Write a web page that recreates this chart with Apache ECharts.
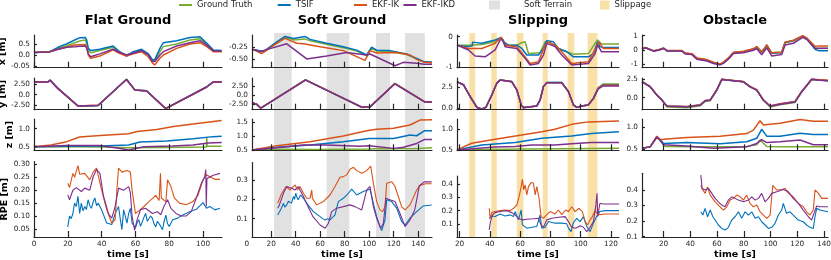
<!DOCTYPE html>
<html><head><meta charset="utf-8">
<script src="https://cdn.jsdelivr.net/npm/echarts@6/dist/echarts.min.js"></script>
<style>html,body{margin:0;padding:0;background:#fff}#c{width:831px;height:260px}</style>
</head><body><div id="c"></div>
<script>
// ================= DATA =================
const scenarioTitles = ['Flat Ground', 'Soft Ground', 'Slipping', 'Obstacle'];
const rowNames = ['x [m]', 'y [m]', 'z [m]', 'RPE [m]'];
const xAxisName = 'time [s]';
const xTicks_flat = [0, 20, 40, 60, 80, 100];
const xTicks_soft = [0, 20, 40, 60, 80, 100, 120, 140];
const xTicks_slip = [20, 40, 60, 80, 100, 120];
const xTicks_obst = [20, 40, 60, 80, 100, 120, 140];
const softTerrainSpans = [[22.3, 36.7], [65.3, 83.8], [105.6, 117], [129.3, 145.5]];
const slippageSpans = [[26.4, 30.3], [40.9, 44.6], [57.8, 62.2], [74.9, 78.2], [91.4, 95.8], [104.6, 111]];

// y tick values / labels
const flatXTicks = [-0.5, 0, 0.5], flatXText = ['-0.05', '0.0', '0.5'];
const flatYTicks = [-2.5, 0, 2.5], flatYText = ['-2.50', '0.0', '2.50'];
const flatZTicks = [0.5, 1.0], flatZText = ['0.5', '1.0'];
const flatRTicks = [0.05, 0.10, 0.15, 0.20, 0.25, 0.30], flatRText = ['0.05', '0.10', '0.15', '0.20', '0.25', '0.30'];
const softXTicks = [-0.5, -0.25], softXText = ['-0.50', '-0.25'];
const softYTicks = [-2.5, 0, 2.5], softYText = ['-2.50', '0.0', '2.50'];
const softZTicks = [0.5, 1.0, 1.5], softZText = ['0.5', '1.0', '1.5'];
const softRTicks = [0.1, 0.2, 0.3], softRText = ['0.1', '0.2', '0.3'];
const slipXTicks = [-1, 0], slipXText = ['-1', '0'];
const slipYTicks = [0, 2.5], slipYText = ['0.0', '2.5'];
const slipZTicks = [0.5, 1.0], slipZText = ['0.5', '1.0'];
const slipRTicks = [0.1, 0.2, 0.3, 0.4], slipRText = ['0.1', '0.2', '0.3', '0.4'];
const obstXTicks = [-1, 0, 1], obstXText = ['-1', '0', '1'];
const obstYTicks = [0, 2.5], obstYText = ['0.0', '2.5'];
const obstZTicks = [0.5, 1.0], obstZText = ['0.5', '1.0'];
const obstRTicks = [0.1, 0.2, 0.3, 0.4], obstRText = ['0.1', '0.2', '0.3', '0.4'];

// ---- Flat Ground ----
const flatX_t = [0, 9.3, 14.2, 19.2, 24.1, 27.1, 30.3, 31.2, 32.1, 33.5, 38.9, 46.8, 49.8, 54.7, 58.7, 63.6, 67.6, 70.2, 71.5, 74.5, 76.5, 84.4, 92.3, 98.2, 102.2, 106.1, 111];
const flatX_gt = [0.11, 0.15, 0.3, 0.41, 0.56, 0.64, 0.68, 0.53, 0.2, 0.1, 0.2, 0.35, 0.15, 0.0, 0.1, 0.23, 0.05, -0.3, -0.26, 0.15, 0.38, 0.5, 0.68, 0.74, 0.5, 0.2, 0.18];
const flatX_tsif = [0.11, 0.15, 0.35, 0.5, 0.68, 0.79, 0.8, 0.68, 0.3, 0.2, 0.26, 0.41, 0.2, -0.05, 0.15, 0.26, 0.05, -0.23, -0.2, 0.3, 0.56, 0.65, 0.8, 0.83, 0.53, 0.23, 0.2];
const flatX_ik = [0.11, 0.15, 0.26, 0.35, 0.45, 0.47, 0.48, 0.38, 0.0, -0.15, -0.05, 0.23, 0.1, -0.05, 0.05, 0.15, -0.08, -0.38, -0.45, -0.15, 0.0, 0.3, 0.5, 0.56, 0.38, 0.15, 0.15];
const flatX_ikd = [0.11, 0.14, 0.26, 0.35, 0.38, 0.4, 0.41, 0.3, 0.05, -0.08, 0.05, 0.26, 0.15, 0.0, 0.08, 0.2, 0.0, -0.3, -0.3, 0.0, 0.15, 0.41, 0.56, 0.65, 0.45, 0.18, 0.18];

const flatY_t = [0, 8.3, 9.5, 14.2, 26.1, 37.9, 54.7, 59.7, 66.6, 77.9, 102.2, 106.1, 111];
const flatY_gt = [3.1, 3.1, 3.5, 1.5, -2.8, -2.65, 3.7, 1.15, 0.95, -3.4, 1.9, 3.1, 3.1];
const flatY_tsif = [3.1, 3.1, 3.5, 1.5, -2.75, -2.6, 3.7, 1.15, 0.95, -3.35, 1.9, 3.1, 3.1];
const flatY_ik = [3.05, 3.05, 3.45, 1.45, -2.7, -2.55, 3.65, 1.1, 0.9, -3.35, 1.85, 3.05, 3.05];
const flatY_ikd = [3.05, 3.05, 3.45, 1.45, -2.7, -2.55, 3.65, 1.1, 0.9, -3.3, 1.85, 3.05, 3.05];

const flatZ_gt = [[0, 0.5], [20, 0.5], [40, 0.49], [56, 0.47], [78, 0.48], [102, 0.49], [102.2, 0.77], [102.4, 0.51], [111, 0.51]];
const flatZ_tsif = [[0, 0.5], [20, 0.51], [39, 0.52], [56, 0.55], [62.7, 0.63], [78.5, 0.66], [94, 0.72], [106, 0.78], [111, 0.79]];
const flatZ_ik = [[0, 0.5], [10, 0.55], [19.3, 0.64], [27, 0.77], [39, 0.81], [56, 0.86], [61, 0.92], [72.6, 0.98], [82.5, 1.06], [94, 1.13], [111, 1.23]];
const flatZ_ikd = [[0, 0.5], [19, 0.53], [39, 0.53], [50, 0.46], [56, 0.41], [65, 0.5], [82, 0.52], [94, 0.55], [103, 0.6], [111, 0.62]];

const flatR_tsif = [[20,0.058],[21,0.1],[22,0.09],[23,0.11],[24,0.15],[25,0.137],[26,0.176],[27,0.11],[28,0.15],[29,0.12],[30,0.137],[31,0.125],[32,0.163],[33,0.14],[34,0.13],[35,0.155],[36,0.17],[37,0.14],[38,0.15],[40,0.124],[43,0.073],[46,0.067],[48,0.11],[50,0.137],[51,0.09],[52,0.047],[53,0.124],[54,0.1],[55,0.073],[56,0.11],[57,0.13],[58,0.073],[60,0.054],[61,0.075],[62,0.086],[63,0.06],[64,0.067],[65,0.095],[66,0.11],[67,0.08],[68,0.073],[69,0.1],[70,0.092],[71,0.07],[72,0.058],[73,0.08],[74,0.086],[75,0.06],[76,0.047],[77,0.08],[78,0.104],[79,0.07],[80,0.06],[82,0.086],[85,0.092],[88,0.104],[92,0.117],[96,0.126],[100,0.152],[102,0.13],[104,0.137],[107,0.124],[110,0.13]];
const flatR_ik = [[20,0.227],[21,0.21],[23,0.265],[24,0.25],[26,0.295],[27,0.262],[30,0.265],[33,0.24],[35,0.27],[37,0.285],[38,0.28],[40,0.2],[43,0.125],[46,0.073],[48,0.086],[49,0.2],[50,0.285],[52,0.27],[55,0.276],[57,0.27],[58,0.2],[60,0.11],[62,0.12],[65,0.137],[68,0.156],[72,0.18],[74,0.16],[74.8,0.265],[75.3,0.17],[78,0.156],[79,0.24],[81,0.214],[83,0.17],[86,0.15],[90,0.144],[94,0.156],[97,0.18],[100,0.24],[102,0.26],[104,0.252],[107,0.242],[110,0.242]];
const flatR_ikd = [[20,0.182],[21,0.163],[23,0.2],[25,0.21],[28,0.195],[30,0.208],[33,0.2],[35,0.252],[37,0.28],[39,0.265],[41,0.18],[44,0.11],[46,0.092],[48,0.137],[50,0.208],[53,0.2],[56,0.214],[57,0.19],[58,0.1],[59.5,0.045],[61,0.086],[63,0.125],[66,0.13],[70,0.11],[73,0.117],[75,0.105],[77,0.14],[79,0.163],[81,0.13],[84,0.11],[87,0.1],[90,0.1],[93,0.117],[96,0.17],[99,0.227],[101,0.252],[101.6,0.28],[101.9,0.137],[102.3,0.245],[106,0.258],[110,0.265]];

// ---- Soft Ground ----
const softX_gt = [[4.3,-0.29],[13.6,-0.35],[24.5,-0.15],[31.3,-0.05],[38.1,-0.1],[47.6,-0.08],[51.7,-0.12],[65.3,-0.19],[78.9,-0.26],[89.8,-0.33],[98,-0.42],[102,-0.27],[106.1,-0.33],[117,-0.34],[130.6,-0.4],[138.8,-0.49],[145,-0.55],[151.3,-0.56]];
const softX_tsif = [[4.3,-0.29],[13.6,-0.34],[24.5,-0.14],[31.3,-0.03],[38.1,-0.07],[47.6,-0.03],[51.7,-0.09],[65.3,-0.17],[78.9,-0.24],[89.8,-0.31],[98,-0.41],[102,-0.25],[106.1,-0.31],[117,-0.32],[130.6,-0.39],[138.8,-0.48],[145,-0.55],[151.3,-0.56]];
const softX_ik = [[4.3,-0.29],[12.2,-0.38],[24.5,-0.17],[31.3,-0.07],[40.8,-0.17],[46.3,-0.18],[59.9,-0.24],[78.9,-0.32],[96.6,-0.52],[100.7,-0.32],[106.1,-0.37],[122.4,-0.36],[133.3,-0.41],[138.8,-0.5],[145,-0.56],[151.3,-0.57]];
const softX_ikd = [[4.3,-0.29],[10.9,-0.34],[16.3,-0.3],[32.7,-0.18],[49,-0.49],[65.3,-0.43],[81.6,-0.36],[98,-0.41],[100.7,-0.39],[121.1,-0.63],[127.9,-0.56],[138.8,-0.58],[145,-0.6],[151.3,-0.6]];

const softY_t = [4.3, 8, 11.5, 48, 94, 100.7, 121, 138.8, 145.5, 151.3];
const softY_gt = [-2.0, -2.4, -3.5, 4.15, -3.3, -3.2, 3.15, -0.45, -1.85, -1.85];
const softY_tsif = [-2.0, -2.4, -3.5, 4.1, -3.25, -3.15, 3.1, -0.45, -1.8, -1.8];
const softY_ik = [-2.0, -2.4, -3.5, 4.1, -3.2, -3.1, 3.1, -0.45, -1.8, -1.8];
const softY_ikd = [-2.0, -2.4, -3.5, 4.05, -3.2, -3.1, 3.05, -0.5, -1.85, -1.85];

const softZ_gt = [[4.3,0.5],[24.5,0.53],[60,0.52],[100,0.54],[108,0.56],[120,0.55],[140,0.56],[151.3,0.58]];
const softZ_tsif = [[4.3,0.5],[24.5,0.6],[51.7,0.68],[78.9,0.8],[100,0.92],[120,0.92],[133.3,1.05],[138.8,1.02],[145,1.2],[151.3,1.2]];
const softZ_ik = [[4.3,0.5],[24.5,0.66],[51.7,0.8],[78.9,1.01],[98,1.2],[106.1,1.26],[120,1.29],[133.3,1.41],[141.5,1.59],[151.3,1.6]];
const softZ_ikd = [[4.3,0.5],[24.5,0.58],[46,0.68],[65,0.68],[92.5,0.64],[100,0.66],[120,0.56],[128,0.6],[138.8,0.74],[145,0.88],[151.3,0.88]];

const softR_tsif = [[25.3,0.119],[26.7,0.128],[28,0.15],[30,0.179],[31,0.16],[32.7,0.171],[34,0.19],[35.4,0.197],[36.5,0.18],[38.1,0.214],[39,0.2],[40,0.231],[41,0.21],[42,0.197],[44,0.222],[46.3,0.205],[50,0.171],[54.4,0.136],[59.9,0.11],[62,0.1],[64,0.093],[66,0.1],[68,0.093],[72.1,0.119],[74.8,0.188],[78.9,0.205],[83,0.231],[85.7,0.252],[89.8,0.222],[95.2,0.24],[100.7,0.252],[103.4,0.179],[106.1,0.11],[108.8,0.059],[110.2,0.038],[112.9,0.093],[114.3,0.197],[118.4,0.188],[122.4,0.154],[126.5,0.085],[129.3,0.067],[133.3,0.102],[138.8,0.136],[144,0.165],[151,0.17]];
const softR_ik = [[25.3,0.179],[26.7,0.171],[28.6,0.231],[32.1,0.266],[35.4,0.248],[39.5,0.274],[41.4,0.248],[43.5,0.266],[46.3,0.231],[49,0.205],[51.7,0.205],[53.1,0.248],[53.6,0.205],[57.1,0.171],[62.6,0.188],[68,0.222],[72.1,0.266],[76.2,0.314],[78.9,0.317],[81.6,0.326],[84.4,0.355],[87.1,0.365],[89.8,0.348],[93.9,0.334],[98,0.348],[101.2,0.372],[103.4,0.283],[106.1,0.188],[108.8,0.145],[111,0.136],[112.9,0.162],[114.3,0.283],[118.4,0.291],[121.1,0.266],[126.5,0.162],[129.3,0.145],[133.3,0.171],[138.8,0.248],[141,0.27],[146,0.28],[151,0.28]];
const softR_ikd = [[25.3,0.154],[26.7,0.171],[30,0.231],[32.7,0.266],[36.7,0.257],[39.5,0.248],[42,0.266],[46.3,0.214],[50,0.162],[54.1,0.11],[59.9,0.067],[64,0.05],[66.7,0.076],[69.4,0.136],[73.5,0.154],[78.9,0.162],[84.4,0.171],[88.4,0.162],[93.9,0.145],[98,0.248],[100.7,0.266],[103.4,0.162],[106.1,0.102],[109.4,0.05],[111.6,0.076],[113.7,0.205],[117,0.197],[121.1,0.188],[125.1,0.128],[129.3,0.059],[133.3,0.093],[137.2,0.145],[141,0.27],[145,0.29],[151,0.29]];

// ---- Slipping ----
const slipX_gt = [[18.3,-0.28],[25.9,-0.28],[34.7,-0.26],[43.5,-0.17],[47.5,-0.02],[51,-0.28],[57.8,-0.28],[61,-0.2],[63.3,-0.17],[65.5,-0.56],[73.2,-0.53],[76.5,-0.17],[78.7,-0.17],[85.3,-0.39],[90.8,-0.5],[95.2,-0.58],[105.1,-0.56],[109.5,-0.22],[111.2,-0.11],[113.8,-0.24],[125.3,-0.24]];
const slipX_tsif = [[18.3,-0.28],[25.9,-0.33],[28.4,-0.3],[28.6,-0.18],[29.2,-0.24],[34.7,-0.22],[43.5,-0.11],[47.5,-0.02],[49,-0.17],[52.3,-0.28],[57.8,-0.28],[61.1,-0.39],[64.4,-0.61],[72.1,-0.61],[75.4,-0.39],[77.6,-0.13],[82,-0.17],[85.3,-0.39],[90.8,-0.5],[95.2,-0.67],[105.1,-0.67],[108.4,-0.56],[111.2,-0.17],[112.7,-0.33],[114.9,-0.36],[125.3,-0.36]];
const slipX_ik = [[18.3,-0.28],[25.9,-0.39],[34.7,-0.39],[43.5,-0.22],[47.5,-0.02],[50.1,-0.28],[57.8,-0.33],[63.3,-0.67],[66.6,-0.89],[72.1,-0.83],[76.5,-0.28],[78.7,-0.17],[83.1,-0.28],[87.5,-0.5],[94.1,-0.89],[105.1,-0.83],[110.5,-0.33],[112.1,-0.17],[114.9,-0.39],[125.3,-0.39]];
const slipX_ikd = [[18.3,-0.28],[25.9,-0.44],[30.3,-0.64],[36.9,-0.67],[43.5,-0.44],[46.8,-0.11],[48.4,-0.09],[50.1,-0.33],[57.8,-0.39],[63.3,-0.72],[66.6,-0.94],[72.1,-0.89],[75.4,-0.61],[77.6,-0.22],[83.1,-0.33],[87.5,-0.61],[94.1,-0.94],[105.1,-0.89],[109.5,-0.56],[111.2,-0.28],[113.8,-0.5],[125.3,-0.5]];

const slipY_t = [18.3, 22.6, 27, 31.4, 34.7, 37.4, 41.3, 44.6, 46.8, 54.5, 57.8, 60.7, 62.2, 71, 73.2, 75.4, 77.6, 87.5, 91.9, 95.2, 97.4, 100.7, 105, 108.4, 111.6, 114.9, 125.3];
const slipY_gt = [3.17, 2.8, 1.4, 0.12, -0.08, 0.12, 1.6, 3.0, 3.37, 3.17, 2.2, 0.4, 0.08, 0.28, 1.0, 2.6, 3.05, 3.05, 2.0, 0.4, 0.12, 0.28, 0.4, 1.2, 2.45, 2.9, 2.9];
const slipY_tsif = [3.17, 2.8, 1.4, 0.12, -0.08, 0.12, 1.6, 3.0, 3.37, 3.17, 2.2, 0.4, 0.08, 0.28, 1.0, 2.6, 3.05, 3.05, 2.0, 0.4, 0.12, 0.28, 0.4, 1.2, 2.4, 2.78, 2.78];
const slipY_ik = [3.15, 2.78, 1.38, 0.1, -0.1, 0.1, 1.58, 2.98, 3.35, 3.15, 2.18, 0.38, 0.06, 0.26, 0.98, 2.58, 3.03, 3.03, 1.98, 0.38, 0.1, 0.26, 0.38, 1.18, 2.38, 2.74, 2.74];
const slipY_ikd = [3.15, 2.78, 1.38, 0.1, -0.1, 0.1, 1.58, 2.98, 3.35, 3.15, 2.18, 0.38, 0.06, 0.26, 0.98, 2.58, 3.03, 3.03, 1.98, 0.38, 0.1, 0.26, 0.38, 1.15, 2.32, 2.66, 2.66];

const slipZ_gt = [[18.3,0.5],[60,0.52],[90,0.53],[125.3,0.54]];
const slipZ_tsif = [[18.3,0.5],[34.7,0.62],[56.7,0.68],[74.3,0.78],[94,0.84],[107,0.9],[125.3,0.94]];
const slipZ_ik = [[18.3,0.5],[28,0.66],[43.5,0.76],[61,0.86],[74.3,0.94],[83,1.0],[94,1.12],[105,1.18],[125.3,1.2]];
const slipZ_ikd = [[18.3,0.5],[43.5,0.57],[56.7,0.58],[67.7,0.62],[83,0.62],[94,0.65],[107,0.68],[125.3,0.68]];

const slipR_tsif = [[39.6,0.142],[41.3,0.16],[43.5,0.155],[46.8,0.175],[50.1,0.16],[53.4,0.168],[55.6,0.155],[56.7,0.193],[58.9,0.13],[60.7,0.205],[61.5,0.092],[64.4,0.067],[67.7,0.074],[71,0.08],[73.2,0.168],[74.3,0.067],[76.5,0.074],[78.7,0.117],[83.1,0.105],[87.5,0.105],[90.8,0.1],[91.9,0.067],[93.6,0.041],[95.2,0.11],[97.4,0.142],[99.6,0.117],[101.8,0.155],[104,0.08],[106.2,0.041],[108.4,0.105],[110.5,0.155],[112.7,0.193],[116,0.2],[125.3,0.2]];
const slipR_ik = [[39.6,0.218],[40.2,0.14],[41.3,0.185],[43.5,0.193],[46.8,0.2],[50.1,0.205],[53.4,0.2],[55.6,0.218],[57.8,0.243],[59.3,0.306],[60.7,0.382],[61.5,0.438],[62.4,0.357],[63.3,0.395],[64.4,0.32],[65.5,0.382],[67.3,0.413],[68.8,0.408],[69.9,0.32],[71,0.382],[72.5,0.294],[73.8,0.155],[75.4,0.142],[77.6,0.17],[79.8,0.193],[83.1,0.175],[85.3,0.205],[87.5,0.17],[90.1,0.205],[91.9,0.193],[94.1,0.23],[96.3,0.193],[98.9,0.218],[101.1,0.193],[102.9,0.117],[104.6,0.092],[106.2,0.13],[107.7,0.155],[109.5,0.2],[111.6,0.168],[116,0.175],[120.4,0.175],[125.3,0.175]];
const slipR_ikd = [[39.6,0.054],[40.4,0.117],[41.8,0.168],[43.5,0.185],[46.8,0.193],[51.2,0.2],[54.5,0.185],[56.7,0.168],[58.9,0.142],[61.1,0.13],[64.4,0.135],[68.8,0.138],[72.1,0.142],[73.8,0.092],[75.4,0.074],[77.6,0.13],[80.9,0.142],[85.3,0.15],[89.7,0.155],[91.9,0.117],[94.1,0.074],[96.7,0.067],[99.6,0.085],[101.8,0.074],[104,0.041],[106.2,0.074],[108.4,0.117],[109.9,0.23],[110.8,0.332],[111.2,0.155],[112.7,0.256],[114.9,0.25],[125.3,0.25]];

// ---- Obstacle ----
const obstX_t = [3.9, 6.3, 8.8, 12.5, 16.3, 20, 22.5, 33.7, 36.2, 41.2, 44.9, 52.4, 57.3, 62.3, 64.8, 68.5, 72.3, 79.7, 87.2, 89.7, 93.4, 97.2, 100.9, 108.4, 110.9, 117.1, 124.1, 127, 133.3, 135.8, 143];
const obstX_gt = [0.07, 0.16, 0.07, -0.07, 0.0, 0.12, -0.05, -0.05, -0.24, -0.28, -0.59, -0.71, -0.89, -1.01, -0.89, -0.59, -0.19, -0.12, 0.05, 0.19, -0.1, 0.25, -0.2, -0.15, 0.5, 0.62, 0.95, 0.8, 0.12, 0.1, 0.12];
const obstX_tsif = [0.07, 0.16, 0.07, -0.07, 0.0, 0.12, -0.05, -0.05, -0.24, -0.28, -0.6, -0.72, -0.9, -1.02, -0.9, -0.6, -0.2, -0.12, 0.06, 0.22, -0.19, 0.35, -0.24, -0.19, 0.52, 0.66, 0.99, 0.8, 0.05, -0.05, -0.05];
const obstX_ik = [0.08, 0.17, 0.08, -0.06, 0.01, 0.13, -0.04, -0.04, -0.22, -0.26, -0.56, -0.68, -0.86, -0.98, -0.86, -0.56, -0.16, -0.1, 0.08, 0.24, -0.16, 0.36, -0.2, -0.16, 0.55, 0.68, 1.0, 0.85, 0.25, 0.28, 0.28];
const obstX_ikd = [0.06, 0.15, 0.06, -0.08, -0.02, 0.1, -0.07, -0.08, -0.28, -0.33, -0.65, -0.78, -0.95, -1.05, -0.95, -0.65, -0.25, -0.2, -0.02, 0.1, -0.35, 0.15, -0.42, -0.32, 0.35, 0.47, 0.89, 0.75, 0.12, 0.12, 0.12];

const obstY_t = [3.9, 10, 15, 18.8, 22.5, 37.4, 47.4, 51.1, 54.9, 59.8, 63.6, 67.3, 79.7, 84.7, 89.7, 94.7, 99.7, 107.1, 118.3, 123.3, 130.8, 137, 143];
const obstY_gt = [2.18, 1.5, 0.36, -0.32, -1.25, -1.35, -1.1, -0.5, -0.4, 1.0, 2.5, 2.41, 2.18, 1.5, 1.05, -0.32, -1.25, -0.95, -0.65, 0.8, 2.5, 2.41, 2.32];
const obstY_tsif = [2.18, 1.5, 0.36, -0.32, -1.14, -1.23, -1.0, -0.41, -0.32, 1.05, 2.5, 2.41, 2.18, 1.5, 1.05, -0.32, -1.14, -0.86, -0.55, 0.82, 2.5, 2.41, 2.32];
const obstY_ik = [2.2, 1.52, 0.38, -0.3, -1.12, -1.2, -0.97, -0.38, -0.3, 1.08, 2.52, 2.44, 2.2, 1.52, 1.08, -0.3, -1.12, -0.83, -0.52, 0.85, 2.52, 2.44, 2.36];
const obstY_ikd = [2.17, 1.49, 0.35, -0.33, -1.15, -1.24, -1.01, -0.42, -0.33, 1.04, 2.48, 2.4, 2.16, 1.48, 1.03, -0.34, -1.16, -0.88, -0.57, 0.8, 2.48, 2.38, 2.3];

const obstZ_gt = [[3.9,0.52],[10,0.55],[15,0.77],[17.5,0.7],[21.2,0.56],[40,0.55],[80,0.55],[89.7,0.6],[92.2,0.71],[97.2,0.56],[110,0.55],[143,0.55]];
const obstZ_tsif = [[3.9,0.52],[10,0.55],[15,0.79],[17.5,0.72],[20,0.63],[37.4,0.65],[62.3,0.62],[82.2,0.67],[89.7,0.75],[93.4,0.96],[97.2,0.8],[107.1,0.8],[122.1,0.87],[132,0.84],[143,0.84]];
const obstZ_ik = [[3.9,0.52],[10,0.55],[15,0.8],[17.5,0.72],[20,0.725],[37.4,0.77],[62.3,0.8],[82.2,0.86],[87.2,0.94],[92.2,1.16],[94.7,1.06],[107.1,1.1],[122.1,1.19],[132,1.15],[143,1.15]];
const obstZ_ikd = [[3.9,0.52],[10,0.55],[15,0.78],[17.5,0.7],[20,0.6],[37.4,0.57],[57.3,0.52],[82.2,0.55],[89.7,0.63],[93.4,0.72],[97.2,0.65],[107.1,0.67],[122.1,0.71],[132,0.6],[143,0.6]];

const obstR_tsif = [[47.9,0.26],[49.4,0.239],[51.1,0.282],[52.9,0.228],[54.9,0.271],[56.9,0.228],[58.6,0.207],[61,0.175],[63.6,0.153],[66,0.143],[68.5,0.16],[71,0.207],[73.5,0.228],[76,0.26],[78.5,0.218],[81,0.26],[83.5,0.239],[86,0.26],[88.5,0.218],[91,0.228],[93.4,0.196],[95.9,0.175],[98.4,0.153],[100.9,0.16],[103.4,0.186],[105.9,0.239],[108.4,0.271],[109.6,0.314],[112,0.25],[114.6,0.26],[117,0.239],[120.8,0.207],[124.5,0.196],[127,0.175],[129.5,0.16],[132,0.153],[133.3,0.228],[134.5,0.282],[137,0.271],[143,0.26]];
const obstR_ik = [[47.9,0.43],[48.7,0.41],[51.1,0.378],[52.9,0.42],[54.9,0.367],[58.6,0.324],[62.3,0.292],[64.8,0.27],[67.3,0.292],[69.8,0.335],[72.3,0.346],[74.8,0.367],[77.3,0.356],[79.7,0.335],[82.2,0.367],[84.7,0.314],[87.2,0.292],[89.7,0.303],[92.2,0.26],[94.7,0.239],[97.2,0.218],[99.7,0.239],[101.7,0.43],[104.6,0.4],[108.4,0.403],[110.9,0.41],[113.4,0.378],[117,0.356],[120.8,0.314],[124.5,0.292],[127,0.26],[129.5,0.239],[132,0.271],[133.3,0.4],[135.8,0.378],[138.3,0.346],[143,0.346]];
const obstR_ikd = [[47.9,0.495],[48.9,0.41],[51.1,0.4],[53.6,0.41],[56.1,0.378],[58.6,0.346],[61,0.324],[63.6,0.303],[66,0.292],[68.5,0.335],[71,0.356],[73.5,0.346],[76,0.335],[79.7,0.324],[83.5,0.335],[86,0.356],[88.5,0.335],[91,0.346],[93.4,0.378],[95.9,0.324],[98.4,0.346],[100.9,0.378],[104.6,0.388],[109.6,0.403],[113.4,0.388],[117,0.346],[120.8,0.314],[124.5,0.271],[128.3,0.228],[130.8,0.207],[132.5,0.25],[134.5,0.297],[137,0.292],[143,0.292]];

// ================= BUILD =================
function zip(t, v) { return t.map((x, i) => [x, v[i]]); }
const GT = 'Ground Truth', TS = 'TSIF', IK = 'EKF-IK', IKD = 'EKF-IKD';
const COLORS = { 'Ground Truth': '#77AC30', 'TSIF': '#0072BD', 'EKF-IK': '#D95319', 'EKF-IKD': '#7E2F8E' };
const AX = '#262626';
const FONT = 'DejaVu Sans';

const panels = [
  [
    { ylim: [-0.58, 0.91], ticks: flatXTicks, text: flatXText, lines: [[GT, zip(flatX_t, flatX_gt)], [TS, zip(flatX_t, flatX_tsif)], [IK, zip(flatX_t, flatX_ik)], [IKD, zip(flatX_t, flatX_ikd)]] },
    { ylim: [-3.6, 4.0], ticks: flatYTicks, text: flatYText, lines: [[GT, zip(flatY_t, flatY_gt)], [TS, zip(flatY_t, flatY_tsif)], [IK, zip(flatY_t, flatY_ik)], [IKD, zip(flatY_t, flatY_ikd)]] },
    { ylim: [0.40, 1.27], ticks: flatZTicks, text: flatZText, lines: [[GT, flatZ_gt], [TS, flatZ_tsif], [IK, flatZ_ik], [IKD, flatZ_ikd]] },
    { ylim: [0.019, 0.311], ticks: flatRTicks, text: flatRText, lines: [[TS, flatR_tsif], [IK, flatR_ik], [IKD, flatR_ikd]] }
  ],
  [
    { ylim: [-0.67, 0.0], ticks: softXTicks, text: softXText, lines: [[GT, softX_gt], [TS, softX_tsif], [IK, softX_ik], [IKD, softX_ikd]] },
    { ylim: [-3.9, 4.6], ticks: softYTicks, text: softYText, lines: [[GT, zip(softY_t, softY_gt)], [TS, zip(softY_t, softY_tsif)], [IK, zip(softY_t, softY_ik)], [IKD, zip(softY_t, softY_ikd)]] },
    { ylim: [0.49, 1.63], ticks: softZTicks, text: softZText, lines: [[GT, softZ_gt], [TS, softZ_tsif], [IK, softZ_ik], [IKD, softZ_ikd]] },
    { ylim: [0.005, 0.39], ticks: softRTicks, text: softRText, lines: [[TS, softR_tsif], [IK, softR_ik], [IKD, softR_ikd]] }
  ],
  [
    { ylim: [-1.03, 0.057], ticks: slipXTicks, text: slipXText, lines: [[GT, slipX_gt], [TS, slipX_tsif], [IK, slipX_ik], [IKD, slipX_ikd]] },
    { ylim: [-0.17, 3.6], ticks: slipYTicks, text: slipYText, lines: [[GT, zip(slipY_t, slipY_gt)], [TS, zip(slipY_t, slipY_tsif)], [IK, zip(slipY_t, slipY_ik)], [IKD, zip(slipY_t, slipY_ikd)]] },
    { ylim: [0.49, 1.25], ticks: slipZTicks, text: slipZText, lines: [[GT, slipZ_gt], [TS, slipZ_tsif], [IK, slipZ_ik], [IKD, slipZ_ikd]] },
    { ylim: [0.0, 0.463], ticks: slipRTicks, text: slipRText, lines: [[TS, slipR_tsif], [IK, slipR_ik], [IKD, slipR_ikd]] }
  ],
  [
    { ylim: [-1.25, 1.05], ticks: obstXTicks, text: obstXText, lines: [[GT, zip(obstX_t, obstX_gt)], [TS, zip(obstX_t, obstX_tsif)], [IK, zip(obstX_t, obstX_ik)], [IKD, zip(obstX_t, obstX_ikd)]] },
    { ylim: [-1.63, 2.68], ticks: obstYTicks, text: obstYText, lines: [[GT, zip(obstY_t, obstY_gt)], [TS, zip(obstY_t, obstY_tsif)], [IK, zip(obstY_t, obstY_ik)], [IKD, zip(obstY_t, obstY_ikd)]] },
    { ylim: [0.47, 1.2], ticks: obstZTicks, text: obstZText, lines: [[GT, obstZ_gt], [TS, obstZ_tsif], [IK, obstZ_ik], [IKD, obstZ_ikd]] },
    { ylim: [0.098, 0.507], ticks: obstRTicks, text: obstRText, lines: [[TS, obstR_tsif], [IK, obstR_ik], [IKD, obstR_ikd]] }
  ]
];

const COLS = [
  { l: 34, r: 222, min: 0, max: 111.2, rpeTop: 161.5, ticks: xTicks_flat },
  { l: 252, r: 432, min: 4.3, max: 151.3, rpeTop: 162.5, ticks: xTicks_soft, labelLeft: 246.7, labelMin: 0 },
  { l: 457, r: 619, min: 18.3, max: 125.3, rpeTop: 176, ticks: xTicks_slip },
  { l: 642, r: 828, min: 3.9, max: 143, rpeTop: 173.3, ticks: xTicks_obst }
];
const ROW_TOP = [35, 78, 119], ROW_BOTTOM = [67.7, 109.7, 150.3, 237];

const grids = [], xAxes = [], yAxes = [], series = [];
function addGrid(l, r, t, b) {
  grids.push({ left: l, top: t, width: r - l, height: b - t, containLabel: false, outerBoundsMode: 'none' });
  return grids.length - 1;
}
function labelFor(row, v) {
  for (let i = 0; i < row.ticks.length; i++) if (Math.abs(row.ticks[i] - v) < 1e-6) return row.text[i];
  return '';
}
const tickFont = { fontSize: 7.3, color: AX, fontFamily: FONT };
const nameFont = { fontSize: 9.5, fontWeight: 'bold', color: '#000', fontFamily: FONT };

function addBands(ci, name, spans, color) {
  const C = COLS[ci];
  const g = addGrid(C.l, C.r, 33, 237);
  xAxes.push({ gridIndex: g, type: 'value', min: C.min, max: C.max, show: false });
  yAxes.push({ gridIndex: g, type: 'value', min: 0, max: 1, show: false });
  series.push({
    type: 'line', name, xAxisIndex: xAxes.length - 1, yAxisIndex: yAxes.length - 1, data: [], z: 1, silent: true,
    itemStyle: { color }, lineStyle: { color },
    markArea: { silent: true, itemStyle: { color, opacity: 1 }, data: spans.map(([a, b]) => [{ xAxis: a }, { xAxis: b }]) }
  });
}
addBands(1, 'Soft Terrain', softTerrainSpans, '#e1e1e1');
addBands(2, 'Slippage', slippageSpans, '#f8e0a6');

panels.forEach((rows, ci) => {
  const C = COLS[ci];
  rows.forEach((row, ri) => {
    const top = ri < 3 ? ROW_TOP[ri] : C.rpeTop;
    const g = addGrid(C.l, C.r, top, ROW_BOTTOM[ri]);
    const inRange = C.ticks.filter(v => v >= C.min - 1e-9 && v <= C.max + 1e-9);
    const bottom = ri === 3;
    xAxes.push({
      gridIndex: g, type: 'value', min: C.min, max: C.max, z: 3,
      axisLine: { show: true, onZero: false, lineStyle: { color: AX, width: 1.2 } },
      axisTick: { show: true, inside: true, length: 6, customValues: inRange, lineStyle: { color: AX, width: 1.2 } },
      axisLabel: Object.assign({ show: bottom && !C.labelLeft, customValues: inRange, margin: 4 }, tickFont),
      splitLine: { show: false },
      name: bottom ? xAxisName : '', nameLocation: 'middle', nameGap: 13, nameTextStyle: nameFont
    });
    yAxes.push({
      gridIndex: g, type: 'value', min: row.ylim[0], max: row.ylim[1], z: 3,
      axisLine: { show: true, onZero: false, lineStyle: { color: AX, width: 1.2 } },
      axisTick: { show: true, inside: true, length: 3, customValues: row.ticks, lineStyle: { color: AX, width: 1.2 } },
      axisLabel: Object.assign({ show: true, customValues: row.ticks, margin: 4, formatter: v => labelFor(row, v) }, tickFont),
      splitLine: { show: false },
      name: ci === 0 ? rowNames[ri] : '', nameLocation: 'middle', nameRotate: 90, nameGap: 15, nameTextStyle: nameFont
    });
    const xi = xAxes.length - 1, yi = yAxes.length - 1;
    row.lines.forEach(([name, data]) => series.push({
      type: 'line', name, xAxisIndex: xi, yAxisIndex: yi, data, showSymbol: false, symbol: 'none', silent: true, z: 2,
      lineStyle: { color: COLORS[name], width: bottom ? 1.1 : 1.5 }, itemStyle: { color: COLORS[name] }
    }));
  });
  if (C.labelLeft !== undefined) {
    const g = addGrid(C.labelLeft, C.r, 236, 237);
    xAxes.push({
      gridIndex: g, type: 'value', min: C.labelMin, max: C.max,
      axisLine: { show: false }, axisTick: { show: false }, splitLine: { show: false },
      axisLabel: Object.assign({ show: true, customValues: C.ticks, margin: 4 }, tickFont)
    });
    yAxes.push({ gridIndex: g, type: 'value', min: 0, max: 1, show: false });
  }
});

const legendSpec = [
  [GT, 179, 'line'], [TS, 277.7, 'line'], [IK, 354, 'line'], [IKD, 403.5, 'line'],
  ['Soft Terrain', 489, 'rect'], ['Slippage', 600, 'rect']
];
const legendColor = { 'Soft Terrain': '#e1e1e1', 'Slippage': '#f8e0a6' };
const legends = legendSpec.map(([name, x, kind]) => ({
  data: [{ name, icon: 'rect', itemStyle: { color: COLORS[name] || legendColor[name] } }],
  left: x, top: 0.5, padding: 0, selectedMode: false,
  itemWidth: kind === 'line' ? 13 : (name === 'Soft Terrain' ? 11 : 9.5),
  itemHeight: kind === 'line' ? 2 : 9,
  formatter: n => (n === 'Soft Terrain' ? '       ' + n : n),
  textStyle: { fontSize: 8.5, color: AX, fontFamily: FONT }
}));

const titles = scenarioTitles.map((t, i) => ({
  text: t, left: (COLS[i].l + COLS[i].r) / 2, top: 14.5, textAlign: 'center', padding: 0,
  textStyle: { fontSize: 13, fontWeight: 'bold', color: '#000', fontFamily: FONT }
}));

const chart = echarts.init(document.getElementById('c'), null, { renderer: 'canvas', width: 831, height: 260 });
chart.setOption({
  animation: false,
  backgroundColor: '#ffffff',
  textStyle: { fontFamily: FONT },
  title: titles,
  legend: legends,
  grid: grids,
  xAxis: xAxes,
  yAxis: yAxes,
  series: series
});
</script>
</body></html>
